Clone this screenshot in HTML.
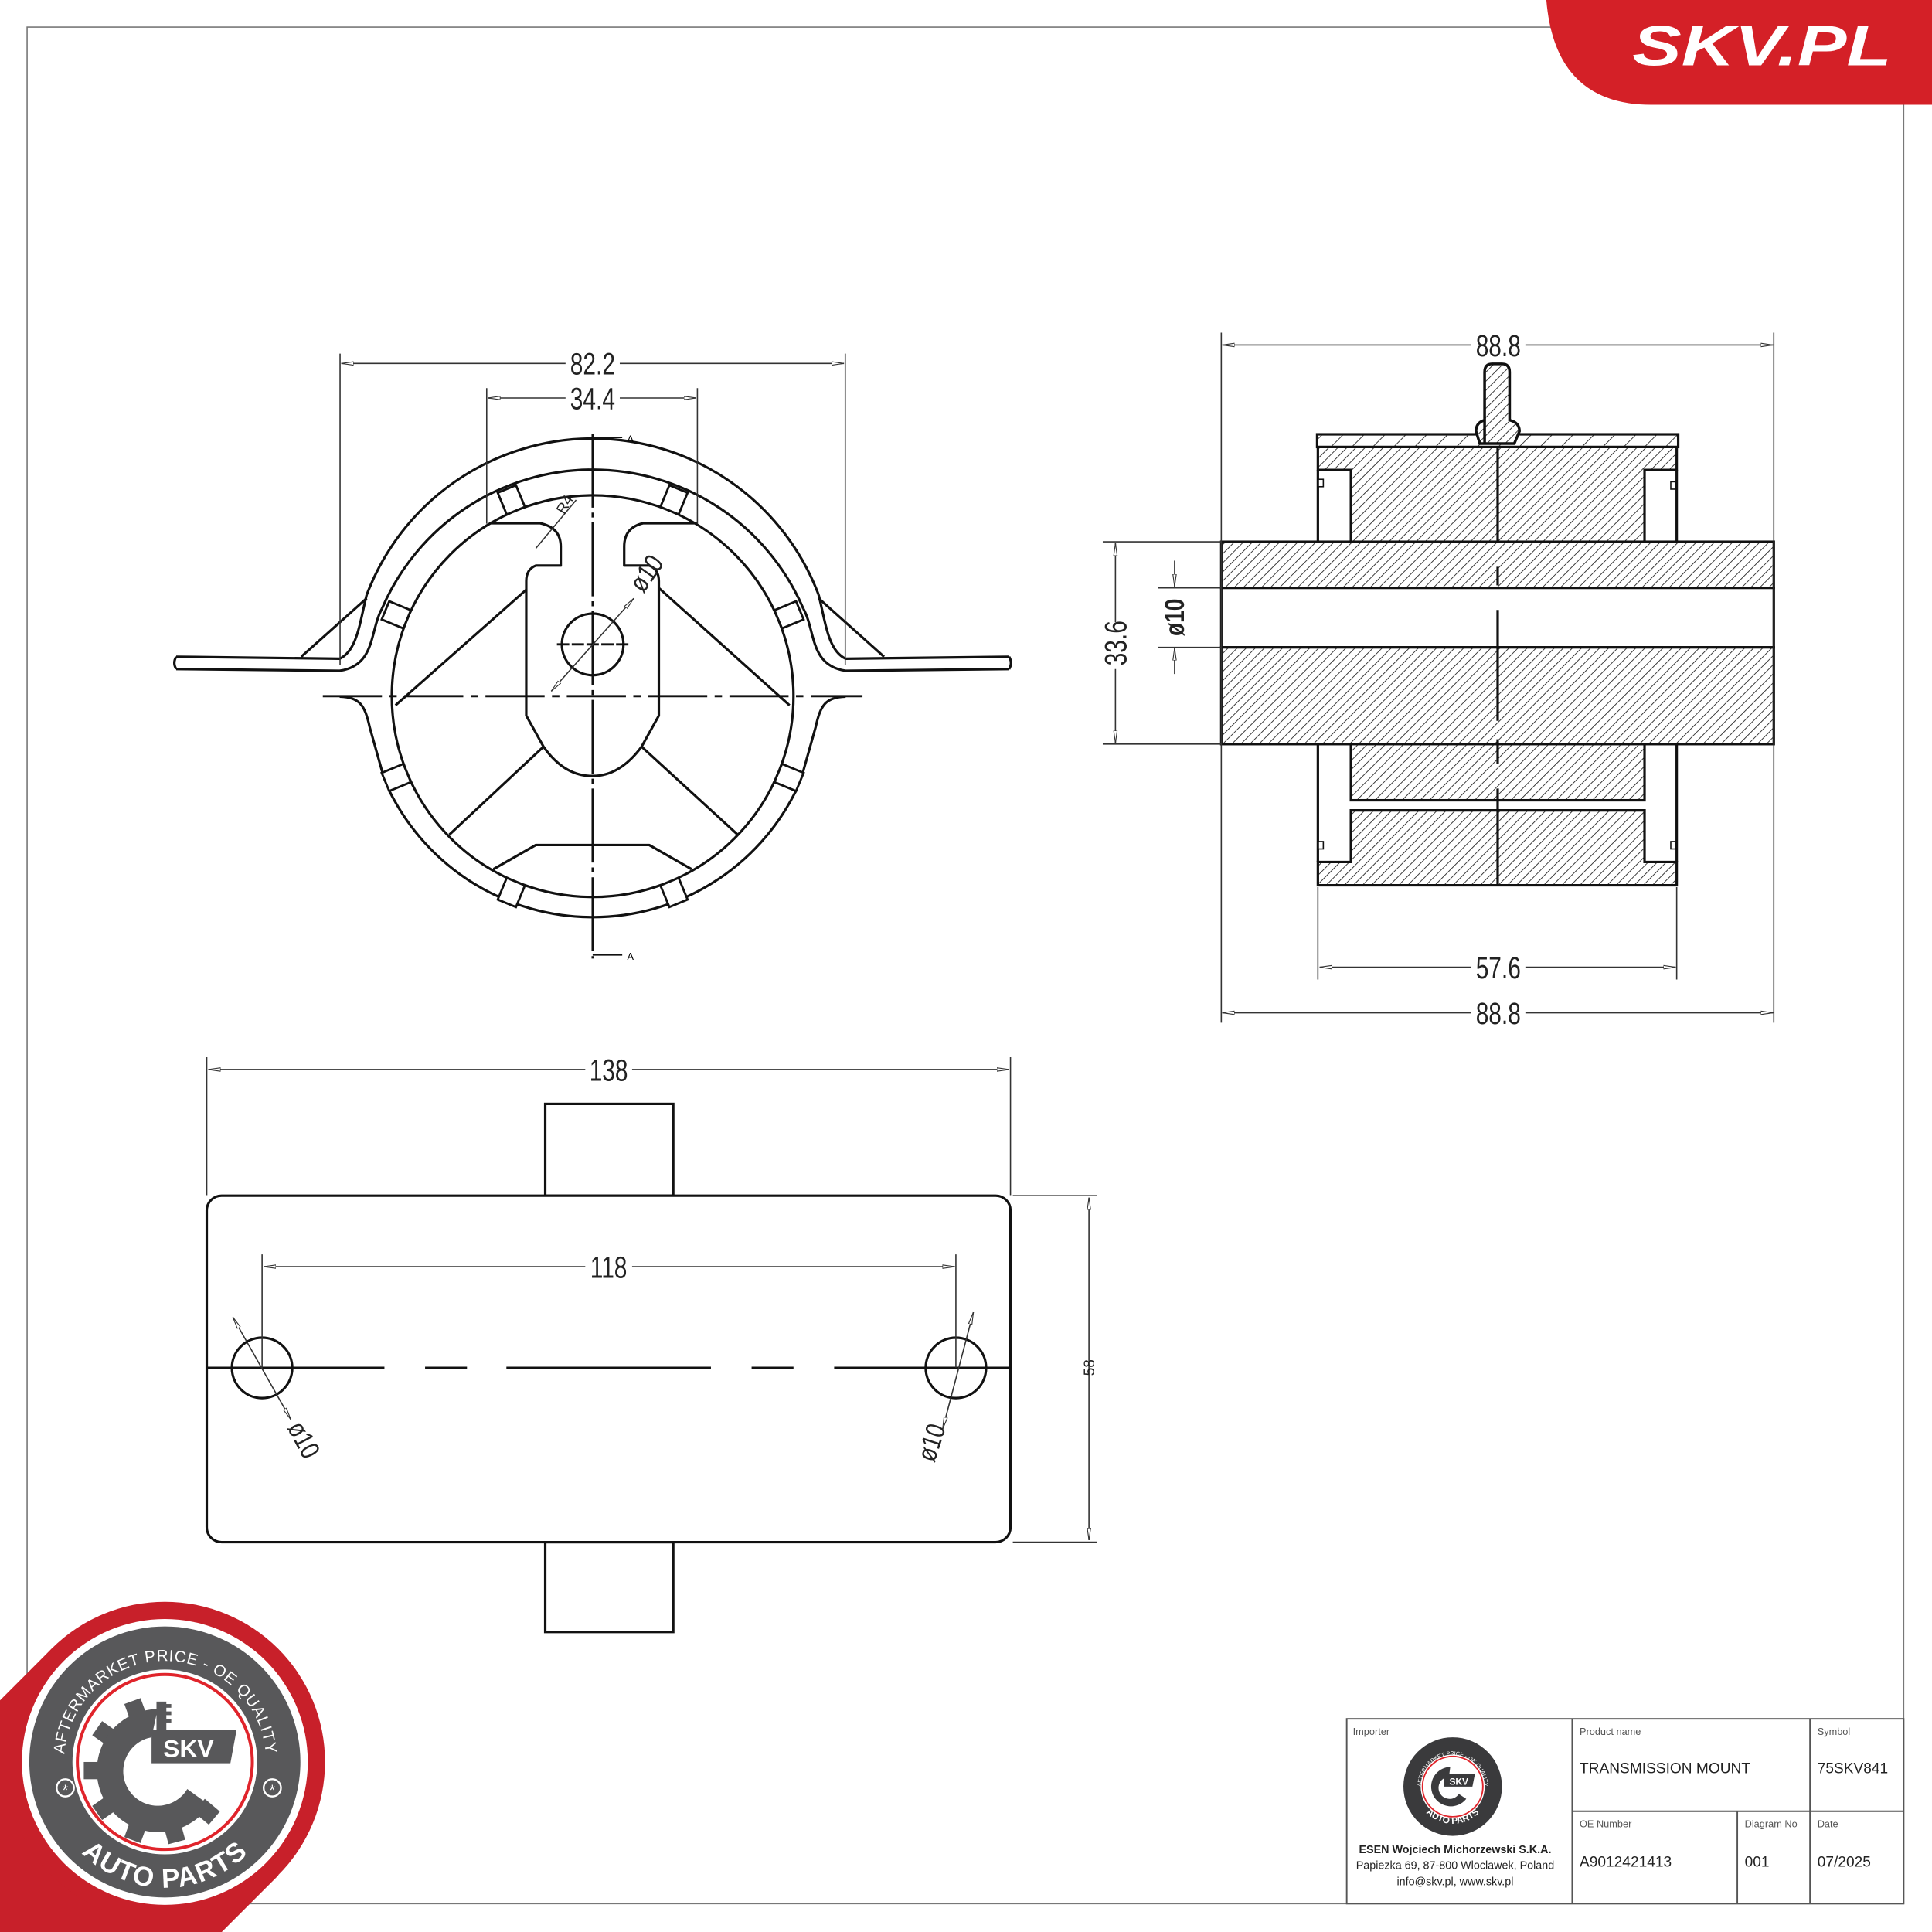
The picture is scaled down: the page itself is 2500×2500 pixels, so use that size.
<!DOCTYPE html>
<html><head><meta charset="utf-8"><style>
html,body{margin:0;padding:0;background:#fff}
svg{display:block}
.dim{font-family:"Liberation Sans",sans-serif;fill:#222}
</style></head><body>
<svg width="2500" height="2500" viewBox="0 0 1568 1568" xmlns="http://www.w3.org/2000/svg">
<defs>
<pattern id="h" width="5.2" height="5.2" patternUnits="userSpaceOnUse" patternTransform="rotate(45)">
<rect width="5.2" height="5.2" fill="#fff"/><line x1="0" y1="0" x2="0" y2="5.2" stroke="#222" stroke-width="1.1"/></pattern>
<pattern id="h2" width="12" height="12" patternUnits="userSpaceOnUse" patternTransform="rotate(45)">
<rect width="12" height="12" fill="#fff"/><line x1="0" y1="0" x2="0" y2="12" stroke="#222" stroke-width="1.1"/></pattern>
<marker id="a" viewBox="0 0 10 4" refX="10" refY="2" markerWidth="10" markerHeight="4" orient="auto-start-reverse" markerUnits="userSpaceOnUse">
<path d="M0,0.6 L10,2 L0,3.4 Z" fill="#fff" stroke="#333" stroke-width="0.7"/></marker>
<path id="arcTop" d="M 52,1430 A 82,82 0 0 1 216,1430"/>
<path id="arcBot" d="M 38,1436 A 96,96 0 0 0 230,1436"/>
<path id="arcTop2" d="M 1153.5,1450 A 25.5,25.5 0 0 1 1204.5,1450"/>
<path id="arcBot2" d="M 1148.5,1452 A 30.6,30.6 0 0 0 1209.5,1452"/>
</defs>

<rect x="22" y="22" width="1523" height="1523" fill="none" stroke="#777" stroke-width="1"/>

<path d="M1255,0 H1568 V85 H1340 Q1262,85 1255,0 Z" fill="#d42027"/>
<text x="1430" y="53" text-anchor="middle" font-family="Liberation Sans,sans-serif" font-weight="bold" font-style="italic" font-size="46" fill="#fff" transform="translate(1430,0) scale(1.3,1) translate(-1430,0)">SKV.PL</text>

<g fill="none" stroke="#111" stroke-width="2" stroke-linejoin="round">
<path d="M297.6,482.8 A196,196 0 0 1 664.4,482.8"/>
<path d="M310,494 A186,186 0 0 1 652,494"/>
<path d="M297.6,482.8 C292,505 290,528 275.7,534.6 L143,533"/>
<path d="M310,494 C300,512 305,540 275.7,544.4 L143,543"/>
<path d="M143,533 Q140,538 143,543"/>
<path d="M244.5,533 L297.6,485.6"/>
<path d="M664.4,482.8 C670,505 672,528 686.3,534.6 L819,533"/>
<path d="M652,494 C662,512 657,540 686.3,544.4 L819,543"/>
<path d="M819,533 Q822,538 819,543"/>
<path d="M717.5,533 L664.4,485.6"/>
<path d="M275.7,565.4 C292,566 296,572 300,590 L310,625.6 L316.3,642.4 A184,184 0 0 0 645.7,642.4 L652,625.6 L662,590 C666,572 670,566 686.3,565.4"/>
<circle cx="481" cy="565" r="163"/>
<path d="M397.4,424.6 L438,424.6 Q455.1,428 455.1,443.6 L455.1,459 L434.9,459 Q427.1,462 427.1,471.6 L427.1,580.8 L441.1,606 Q458,630 480.7,629.8 Q503,630 520.7,606 L534.7,580.8 L534.7,471.6 Q534.7,462 526.9,459 L506.6,459 L506.6,443.6 Q506.6,428 522.2,424.6 L565.9,424.6"/>
<path d="M427.1,478.6 L321,572.4 M534.7,477.2 L640.8,572.4 M441.1,606 L364.7,677.4 M520.7,606 L598.7,677.4"/>
<path d="M400.5,705.4 L434.9,685.8 L526.9,685.8 L561.2,705.4"/>
<circle cx="481" cy="523" r="25"/>
</g>
<g fill="#fff" stroke="#111" stroke-width="1.8">
<g transform="translate(481,565)">
<rect x="163" y="-8" width="19" height="16" transform="rotate(-22.5)"/>
<rect x="163" y="-8" width="19" height="16" transform="rotate(-67.5)"/>
<rect x="163" y="-8" width="19" height="16" transform="rotate(-112.5)"/>
<rect x="163" y="-8" width="19" height="16" transform="rotate(-157.5)"/>
<rect x="163" y="-8" width="19" height="16" transform="rotate(22.5)"/>
<rect x="163" y="-8" width="19" height="16" transform="rotate(67.5)"/>
<rect x="163" y="-8" width="19" height="16" transform="rotate(112.5)"/>
<rect x="163" y="-8" width="19" height="16" transform="rotate(157.5)"/>
</g></g>
<g stroke="#111" stroke-width="1.8" fill="none">
<path d="M481,352 V778" stroke-dasharray="60,4,4,4"/>
<path d="M262,565 H700" stroke-dasharray="48,6,6,6"/>
<path d="M452,523 H510" stroke-dasharray="10,2"/>
<path d="M481,355 H505 M481,775 H505" stroke-width="1.2"/>
</g>
<text x="509" y="359" font-size="8" font-family="Liberation Sans,sans-serif">A</text>
<text x="509" y="779" font-size="8" font-family="Liberation Sans,sans-serif">A</text>
<g stroke="#333" stroke-width="1" fill="none">
<path d="M276,287 V540 M686,287 V540 M395,315 V425 M566,315 V425"/>
<path d="M277,295 H459 M503,295 H685" marker-start="url(#a)" marker-end="url(#a)"/>
<path d="M396,323 H459 M503,323 H565" marker-start="url(#a)" marker-end="url(#a)"/>
<path d="M447.4,561 L514.4,485.6" marker-start="url(#a)" marker-end="url(#a)"/>
<path d="M434.9,445 L467.6,405.8"/>
</g>
<g class="dim" font-size="25">
<text x="481" y="304" text-anchor="middle" transform="translate(481,0) scale(0.75,1) translate(-481,0)">82.2</text>
<text x="481" y="332" text-anchor="middle" transform="translate(481,0) scale(0.75,1) translate(-481,0)">34.4</text>
<text x="0" y="0" font-size="22" transform="translate(522,482) rotate(-55) scale(0.8,1)">ø10</text>
<text x="0" y="0" font-size="12" transform="translate(458,418) rotate(-60)">R4</text>
</g>

<g stroke="#111" stroke-width="2">
<rect x="1069" y="352.5" width="293" height="10.3" fill="url(#h2)"/>
<path d="M1069.6,362.8 H1360.8 V381.4 H1334.7 V439.7 H1096.4 V381.4 H1069.6 Z" fill="url(#h)"/>
<path d="M1069.6,381.4 V439.7 M1360.8,381.4 V439.7" fill="none"/>
<rect x="991.2" y="439.7" width="448.4" height="37.4" fill="url(#h)"/>
<rect x="991.2" y="477.1" width="448.4" height="48.3" fill="#fff"/>
<rect x="991.2" y="525.4" width="448.4" height="78.5" fill="url(#h)"/>
<rect x="1096.4" y="603.9" width="238.3" height="45.6" fill="url(#h)"/>
<path d="M1096.4,657.7 H1334.7 V699.6 H1360.8 V718.5 H1069.6 V699.6 H1096.4 Z" fill="url(#h)"/>
<path d="M1069.6,603.9 V699.6 M1360.8,603.9 V699.6" fill="none"/>
<path d="M1204.9,360 V302 Q1204.9,295.3 1211,295.3 H1219 Q1225.2,295.3 1225.2,302 V341 Q1233.2,343 1233.2,350 L1229,360 H1201 L1197.9,350 Q1197.9,343 1204.9,341 Z" fill="url(#h)" stroke-width="2.2"/>
<path d="M1215.5,362.8 V440 M1215.5,460 V475 M1215.5,495 V585 M1215.5,600 V620 M1215.5,640 V718.5" fill="none"/>
</g>
<g fill="#fff" stroke="#111" stroke-width="1"><rect x="1070" y="389" width="4" height="6"/><rect x="1356" y="391" width="4" height="6"/><rect x="1070" y="683" width="4" height="6"/><rect x="1356" y="683" width="4" height="6"/></g>
<g stroke="#333" stroke-width="1" fill="none">
<path d="M991.2,270 V830 M1439.6,270 V830 M1069.6,720 V795 M1360.8,720 V795"/>
<path d="M992,280 H1194 M1238,280 H1439" marker-start="url(#a)" marker-end="url(#a)"/>
<path d="M1071,785 H1194 M1238,785 H1360" marker-start="url(#a)" marker-end="url(#a)"/>
<path d="M992,822 H1194 M1238,822 H1439" marker-start="url(#a)" marker-end="url(#a)"/>
<path d="M895,439.7 H991 M895,603.9 H991 M940,477.1 H991 M940,525.4 H991"/>
<path d="M905.3,441 V505 M905.3,543 V603" marker-start="url(#a)" marker-end="url(#a)"/>
<path d="M953.3,455 V476" marker-end="url(#a)"/>
<path d="M953.3,547 V526" marker-end="url(#a)"/>
</g>
<g class="dim" font-size="25">
<text x="1216" y="289" text-anchor="middle" transform="translate(1216,0) scale(0.75,1) translate(-1216,0)">88.8</text>
<text x="1216" y="794" text-anchor="middle" transform="translate(1216,0) scale(0.75,1) translate(-1216,0)">57.6</text>
<text x="1216" y="831" text-anchor="middle" transform="translate(1216,0) scale(0.75,1) translate(-1216,0)">88.8</text>
<text x="0" y="0" text-anchor="middle" transform="translate(914,522) rotate(-90) scale(0.75,1)">33.6</text>
<text x="0" y="0" text-anchor="middle" font-size="22" font-weight="bold" transform="translate(961,501) rotate(-90) scale(0.8,1)">ø10</text>
</g>

<g stroke="#111" stroke-width="2" fill="none">
<rect x="442.5" y="895.9" width="103.9" height="74.5" fill="#fff"/>
<rect x="442.5" y="1251.6" width="103.9" height="72.9" fill="#fff"/>
<rect x="167.8" y="970.4" width="652.3" height="281.2" rx="12" fill="#fff"/>
<circle cx="212.7" cy="1110.2" r="24.5"/>
<circle cx="775.8" cy="1110.2" r="24.5"/>
<path d="M168,1110.2 H312 M345,1110.2 H379 M411,1110.2 H577 M610,1110.2 H644 M677,1110.2 H820"/>
</g>
<g stroke="#333" stroke-width="1" fill="none">
<path d="M167.8,858 V970 M820.1,858 V970 M212.7,1018 V1110 M775.8,1018 V1110 M822,970.4 H890 M822,1251.6 H890"/>
<path d="M169,868 H475 M513,868 H819" marker-start="url(#a)" marker-end="url(#a)"/>
<path d="M214,1028 H475 M513,1028 H775" marker-start="url(#a)" marker-end="url(#a)"/>
<path d="M883.8,972 V1250" marker-start="url(#a)" marker-end="url(#a)"/>
<path d="M189,1069 L236,1152" marker-start="url(#a)" marker-end="url(#a)"/>
<path d="M790,1065 L765,1160" marker-start="url(#a)" marker-end="url(#a)"/>
</g>
<g class="dim" font-size="25">
<text x="494" y="877" text-anchor="middle" transform="translate(494,0) scale(0.75,1) translate(-494,0)">138</text>
<text x="494" y="1037" text-anchor="middle" transform="translate(494,0) scale(0.75,1) translate(-494,0)">118</text>
<text x="0" y="0" text-anchor="middle" font-size="12" transform="translate(888,1110) rotate(-90)">58</text>
<text x="0" y="0" text-anchor="middle" font-size="22" transform="translate(240,1172) rotate(62) scale(0.8,1)">ø10</text>
<text x="0" y="0" text-anchor="middle" font-size="22" transform="translate(763,1173) rotate(-72) scale(0.8,1)">ø10</text>
</g>

<g>
<path d="M42,1338 L0,1380 L0,1568 L180,1568 L226,1522 Z" fill="#c8202a"/>
<circle cx="133.8" cy="1430" r="130" fill="#c8202a"/>
<circle cx="133.8" cy="1430" r="116" fill="#fff"/>
<circle cx="133.8" cy="1430" r="110" fill="#58585a"/>
<circle cx="133.8" cy="1430" r="75" fill="#fff"/>
<circle cx="133.8" cy="1430" r="71" fill="none" stroke="#e0242b" stroke-width="2.5"/>
<g fill="#58585a" transform="translate(128,1437)">
<rect x="-7" y="-60" width="14" height="16" transform="rotate(-20)"/>
<rect x="-7" y="-60" width="14" height="16" transform="rotate(-55)"/>
<rect x="-7" y="-60" width="14" height="16" transform="rotate(-90)"/>
<rect x="-7" y="-60" width="14" height="16" transform="rotate(-125)"/>
<rect x="-7" y="-60" width="14" height="16" transform="rotate(-160)"/>
<rect x="-7" y="-60" width="14" height="16" transform="rotate(165)"/>
<rect x="-7" y="-60" width="14" height="16" transform="rotate(130)"/>
<path d="M0,-50 A50,50 0 1 0 42,28 L24,15 A28,28 0 1 1 -5,-27 Z"/>
</g>
<rect x="127" y="1381" width="8" height="26" fill="#58585a"/>
<rect x="130" y="1383" width="9" height="3" fill="#58585a"/><rect x="130" y="1389" width="9" height="3" fill="#58585a"/><rect x="130" y="1395" width="9" height="3" fill="#58585a"/>
<path d="M123,1404 L192,1404 L187,1431 L123,1431 Z" fill="#58585a"/>
<text x="153" y="1426" text-anchor="middle" font-family="Liberation Sans,sans-serif" font-weight="bold" font-size="20" fill="#fff">SKV</text>
<text font-family="Liberation Sans,sans-serif" font-size="13" fill="#fff" letter-spacing="0.5"><textPath href="#arcTop" startOffset="50%" text-anchor="middle">AFTERMARKET PRICE - OE QUALITY</textPath></text>
<text font-family="Liberation Sans,sans-serif" font-size="22" font-weight="bold" fill="#fff" letter-spacing="1"><textPath href="#arcBot" startOffset="50%" text-anchor="middle">AUTO PARTS</textPath></text>
<circle cx="53" cy="1451" r="7" fill="none" stroke="#fff" stroke-width="1.5"/><text x="53" y="1457" text-anchor="middle" font-size="12" fill="#fff" font-family="Liberation Sans,sans-serif">*</text>
<circle cx="221" cy="1451" r="7" fill="none" stroke="#fff" stroke-width="1.5"/><text x="221" y="1457" text-anchor="middle" font-size="12" fill="#fff" font-family="Liberation Sans,sans-serif">*</text>
</g>

<g stroke="#555" stroke-width="1.2" fill="none">
<rect x="1093" y="1395" width="452" height="150" fill="#fff"/>
<path d="M1276,1395 V1545 M1469,1395 V1545 M1276,1470 H1545 M1410,1470 V1545"/>
</g>
<g font-family="Liberation Sans,sans-serif" fill="#222">
<text x="1098" y="1408" font-size="8" fill="#555">Importer</text>
<text x="1282" y="1408" font-size="8" fill="#555">Product name</text>
<text x="1475" y="1408" font-size="8" fill="#555">Symbol</text>
<text x="1282" y="1483" font-size="8" fill="#555">OE Number</text>
<text x="1416" y="1483" font-size="8" fill="#555">Diagram No</text>
<text x="1475" y="1483" font-size="8" fill="#555">Date</text>
<text x="1282" y="1439" font-size="12">TRANSMISSION MOUNT</text>
<text x="1475" y="1439" font-size="12">75SKV841</text>
<text x="1282" y="1515" font-size="12">A9012421413</text>
<text x="1416" y="1515" font-size="12">001</text>
<text x="1475" y="1515" font-size="12">07/2025</text>
<text x="1181" y="1504" font-size="9" font-weight="bold" text-anchor="middle">ESEN Wojciech Michorzewski S.K.A.</text>
<text x="1181" y="1517" font-size="9" text-anchor="middle">Papiezka 69, 87-800 Wloclawek, Poland</text>
<text x="1181" y="1530" font-size="9" text-anchor="middle">info@skv.pl, www.skv.pl</text>
</g>
<g>
<circle cx="1179" cy="1450" r="40" fill="#3a3a3c"/>
<circle cx="1179" cy="1450" r="26" fill="#fff"/>
<circle cx="1179" cy="1450" r="24.5" fill="none" stroke="#e0242b" stroke-width="1.2"/>
<path d="M1177,1434 A16,16 0 1 0 1190,1460 L1184,1456 A9,9 0 1 1 1176,1442 Z" fill="#3a3a3c"/>
<path d="M1172,1440 L1197,1440 L1195,1450 L1172,1450 Z" fill="#3a3a3c"/>
<text x="1184" y="1448.5" text-anchor="middle" font-family="Liberation Sans,sans-serif" font-weight="bold" font-size="7.5" fill="#fff">SKV</text>
<text font-family="Liberation Sans,sans-serif" font-size="4.5" fill="#fff"><textPath href="#arcTop2" startOffset="50%" text-anchor="middle">AFTERMARKET PRICE - OE QUALITY</textPath></text>
<text font-family="Liberation Sans,sans-serif" font-size="7.5" font-weight="bold" fill="#fff"><textPath href="#arcBot2" startOffset="50%" text-anchor="middle">AUTO PARTS</textPath></text>
</g>
</svg>
</body></html>
